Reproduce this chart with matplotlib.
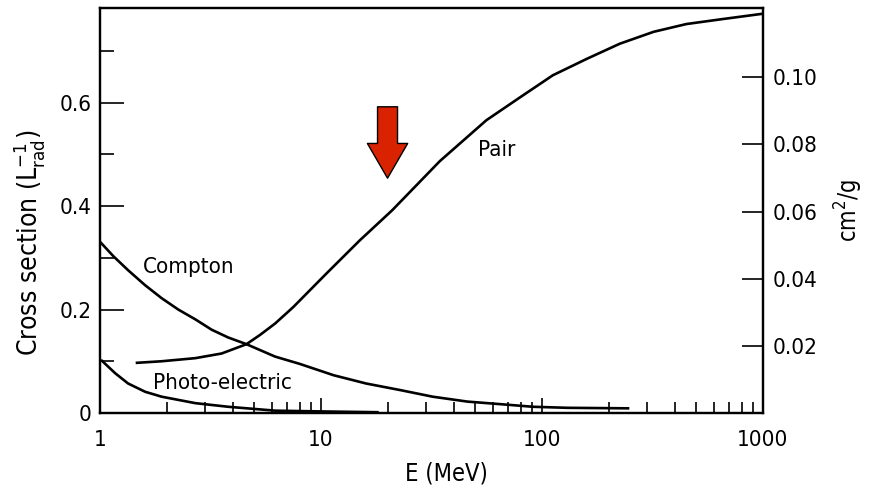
import matplotlib
matplotlib.use("Agg")
import matplotlib.pyplot as plt
from matplotlib import font_manager
from matplotlib.ticker import FixedLocator, FuncFormatter, NullFormatter

# narrow lettering like the scanned figure; use a condensed face if one is installed
narrow = [f.name for f in font_manager.fontManager.ttflist
          if f.stretch in ('condensed', 'semi-condensed') and f.style == 'normal']
plt.rcParams['font.family'] = narrow[:1] + ['Liberation Sans', 'DejaVu Sans']
if narrow:
    plt.rcParams['font.stretch'] = 'condensed'

# energies (MeV) and cross sections (in units of 1/L_rad)
E_pair = [1.47, 1.9, 2.7, 3.55, 4.6, 5.3, 6.2, 7.5, 10.6, 15, 21, 34.5, 56, 80,
          112, 160, 225, 320, 450, 640, 1000]
pair = [0.097, 0.100, 0.106, 0.115, 0.133, 0.151, 0.173, 0.205, 0.270, 0.334,
        0.392, 0.487, 0.566, 0.611, 0.653, 0.685, 0.714, 0.737, 0.752, 0.761, 0.772]

E_compton = [1.0, 1.15, 1.34, 1.6, 1.9, 2.26, 2.7, 3.2, 3.8, 4.6, 6.2, 8.0, 11.4,
             16, 23, 32, 46, 65, 91, 130, 245]
compton = [0.331, 0.303, 0.276, 0.247, 0.222, 0.200, 0.181, 0.161, 0.146, 0.133,
           0.109, 0.095, 0.073, 0.057, 0.044, 0.0315, 0.022, 0.017, 0.012, 0.010, 0.009]

E_photo = [1.02, 1.17, 1.34, 1.6, 1.9, 2.7, 3.8, 6.2, 10, 18]
photo = [0.101, 0.077, 0.057, 0.041, 0.0315, 0.019, 0.012, 0.0045, 0.003, 0.0015]

left_ticks = [0, 0.2, 0.4, 0.6]
left_minor = [0.1, 0.3, 0.5, 0.7]
right_ticks = [0.02, 0.04, 0.06, 0.08, 0.10]
x_ticks = [1, 10, 100, 1000]
arrow_E = 20
scale = 6.49  # L_rad^-1 per cm^2/g

fig = plt.figure(figsize=(8.69, 4.95), dpi=100)
ax = fig.add_axes([0.1151, 0.1657, 0.878 - 0.1151, 0.9838 - 0.1657])

lw = 1.9
ax.plot(E_pair, pair, color='black', lw=lw)
ax.plot(E_compton, compton, color='black', lw=lw)
ax.plot(E_photo, photo, color='black', lw=lw)

ax.set_xscale('log')
ax.set_xlim(1, 1000)
ax.set_ylim(0, 0.783)

fs = 16
ax.xaxis.set_major_locator(FixedLocator(x_ticks))
ax.xaxis.set_major_formatter(FuncFormatter(lambda v, p: f"{v:g}"))
ax.xaxis.set_minor_formatter(NullFormatter())
ax.tick_params(axis='x', which='major', direction='in', length=11, width=1.2,
               labelsize=fs, pad=12, top=False)
ax.tick_params(axis='x', which='minor', direction='in', length=8, width=1.2, top=False)

ax.yaxis.set_major_locator(FixedLocator(left_ticks))
ax.yaxis.set_minor_locator(FixedLocator(left_minor))
ax.yaxis.set_major_formatter(FuncFormatter(lambda v, p: f"{v:g}"))
ax.tick_params(axis='y', which='major', direction='in', length=17, width=1.2,
               labelsize=fs, pad=6, right=False)
ax.tick_params(axis='y', which='minor', direction='in', length=10, width=1.2, right=False)

for s in ax.spines.values():
    s.set_linewidth(1.6)

ax2 = ax.twinx()
ax2.set_ylim(0, 0.783 / scale)
ax2.yaxis.set_major_locator(FixedLocator(right_ticks))
ax2.yaxis.set_major_formatter(FuncFormatter(lambda v, p: f"{v:.2f}"))
ax2.tick_params(axis='y', direction='in', length=15, width=1.2, labelsize=fs, pad=7)
for s in ax2.spines.values():
    s.set_linewidth(1.6)

ax.set_xlabel('E (MeV)', fontsize=17)
ax.xaxis.set_label_coords(0.523, -0.12)
ax.set_ylabel(r'Cross section (L$_{\rm rad}^{-1}$)', fontsize=19)
ax.yaxis.set_label_coords(-0.08, 0.42)
ax2.set_ylabel(r'cm$^2$/g', fontsize=17)
ax2.yaxis.set_label_coords(1.105, 0.5)

ax.text(1.566, 0.282, 'Compton', fontsize=fs, va='center', ha='left')
ax.text(1.737, 0.058, 'Photo-electric', fontsize=fs, va='center', ha='left')
ax.text(51.4, 0.508, 'Pair', fontsize=fs, va='center', ha='left')

ax.annotate('', xy=(arrow_E, 0.454), xytext=(arrow_E, 0.592),
            arrowprops=dict(arrowstyle='simple,head_length=1.25,head_width=1.45,tail_width=0.72',
                            mutation_scale=20, fc='#d92200', ec='black', lw=1,
                            shrinkA=0, shrinkB=0))

fig.savefig('out.png', dpi=100)
